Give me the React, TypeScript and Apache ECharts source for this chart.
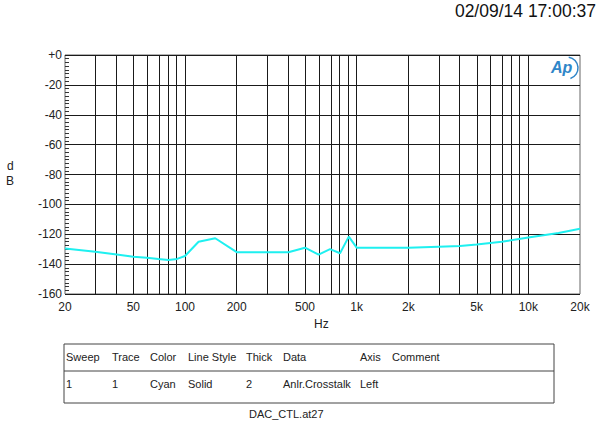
import React, { useEffect, useRef } from "react";
import * as echarts from "echarts";

const freqs = [20, 30, 40, 50, 60, 70, 80, 90, 100, 120, 150, 200, 300, 400, 500, 600, 700, 800, 900, 1000, 2000, 3000, 4000, 5000, 7000, 10000, 15000, 20000];
const crosstalk = [-129.5, -131.7, -133.5, -135, -135.8, -136.6, -137.2, -136.5, -134.6, -125, -122.7, -132, -132, -132, -129, -133.7, -130, -132.7, -121.6, -129, -129, -128.3, -127.8, -126.8, -125, -122.2, -119.2, -116.3];
const gridFreqs = [30, 40, 50, 60, 70, 80, 90, 100, 200, 300, 400, 500, 600, 700, 800, 900, 1000, 2000, 3000, 4000, 5000, 6000, 7000, 8000, 9000, 10000];
const labelFreqs = [20, 50, 100, 200, 500, 1000, 2000, 5000, 10000, 20000];
const labelTexts = ["20", "50", "100", "200", "500", "1k", "2k", "5k", "10k", "20k"];
const tableHeaders = ["Sweep", "Trace", "Color", "Line Style", "Thick", "Data", "Axis", "Comment"];
const tableRow = ["1", "1", "Cyan", "Solid", "2", "Anlr.Crosstalk", "Left", ""];
const colX = [65, 111, 149, 187, 245, 282, 359, 391];

const FONT = "Liberation Sans, Arial, sans-serif";

export default function App() {
  const ref = useRef<HTMLDivElement>(null);
  useEffect(() => {
    document.body.style.margin = "0";
    const chart = echarts.init(ref.current!, null, { renderer: "svg" });
    const lg = (f: number) => Math.log10(f);
    const labelVals = labelFreqs.map(lg);
    const graphic: any[] = [
      { type: "text", right: 4, top: 2, style: { text: "02/09/14 17:00:37", font: `17.5px ${FONT}`, fill: "#111" } },
      { type: "text", left: 7, top: 160, style: { text: "d", font: `12px ${FONT}`, fill: "#222" } },
      { type: "text", left: 6, top: 175, style: { text: "B", font: `12px ${FONT}`, fill: "#222" } },
      { type: "text", left: 314, top: 318, style: { text: "Hz", font: `12px ${FONT}`, fill: "#222" } },
      { type: "rect", shape: { x: 64, y: 344, width: 490, height: 59 }, style: { fill: "none", stroke: "#444", lineWidth: 1 } },
      { type: "line", shape: { x1: 64, y1: 371, x2: 554, y2: 371 }, style: { stroke: "#444", lineWidth: 1 } },
      { type: "text", left: 249, top: 408, style: { text: "DAC_CTL.at27", font: `11px ${FONT}`, fill: "#222" } },
      { type: "text", left: 551, top: 59, style: { text: "Ap", font: `italic bold 16px ${FONT}`, fill: "#2f86c8" } },
      { type: "arc", shape: { cx: 567, cy: 68, r: 11, startAngle: -Math.PI * 0.45, endAngle: Math.PI * 0.4 }, style: { stroke: "#2f86c8", lineWidth: 1.5, fill: "none" } },
    ];
    tableHeaders.forEach((h, i) => {
      graphic.push({ type: "text", left: colX[i] + 1, top: 351, style: { text: h, font: `11px ${FONT}`, fill: "#222" } });
    });
    tableRow.forEach((h, i) => {
      if (h) graphic.push({ type: "text", left: colX[i] + 1, top: 378, style: { text: h, font: `11px ${FONT}`, fill: "#222" } });
    });
    chart.setOption({
      animation: false,
      grid: { left: 65, top: 55, width: 515, height: 239, show: true, borderColor: "#666", borderWidth: 1, backgroundColor: "transparent" },
      xAxis: {
        type: "value",
        min: lg(20),
        max: lg(20000),
        axisLine: { show: false },
        axisTick: { show: false },
        splitLine: { show: false },
        axisLabel: {
          customValues: labelVals,
          color: "#222",
          fontSize: 12,
          fontFamily: FONT,
          margin: 7,
          formatter: (v: number) => {
            let best = 0;
            labelVals.forEach((lv, i) => { if (Math.abs(lv - v) < Math.abs(labelVals[best] - v)) best = i; });
            return labelTexts[best];
          },
        },
      },
      yAxis: {
        type: "value",
        min: -160,
        max: 0,
        interval: 20,
        axisLine: { show: false },
        axisTick: { show: false, inside: true },
        minorTick: { show: true, splitNumber: 8, length: 4, lineStyle: { color: "#333" } },
        splitLine: { show: true, lineStyle: { color: "#1a1a1a", width: 1 } },
        axisLabel: { color: "#222", fontSize: 12, fontFamily: FONT, margin: 3, formatter: (v: number) => (v === 0 ? "+0" : String(v)) },
      },
      graphic,
      series: [
        {
          type: "line",
          data: [],
          z: 1,
          silent: true,
          markLine: {
            silent: true,
            symbol: ["none", "none"],
            label: { show: false },
            lineStyle: { color: "#1a1a1a", width: 1, type: "solid" },
            emphasis: { disabled: true },
            data: gridFreqs.map((f) => ({ xAxis: lg(f) })),
          },
        },
        {
          type: "line",
          z: 5,
          data: freqs.map((f, i) => [lg(f), crosstalk[i]]),
          showSymbol: false,
          lineStyle: { color: "#1ef0f0", width: 2 },
          itemStyle: { color: "#1ef0f0" },
        },
      ],
    });
    return () => chart.dispose();
  }, []);
  return <div ref={ref} style={{ width: 600, height: 426 }} />;
}
